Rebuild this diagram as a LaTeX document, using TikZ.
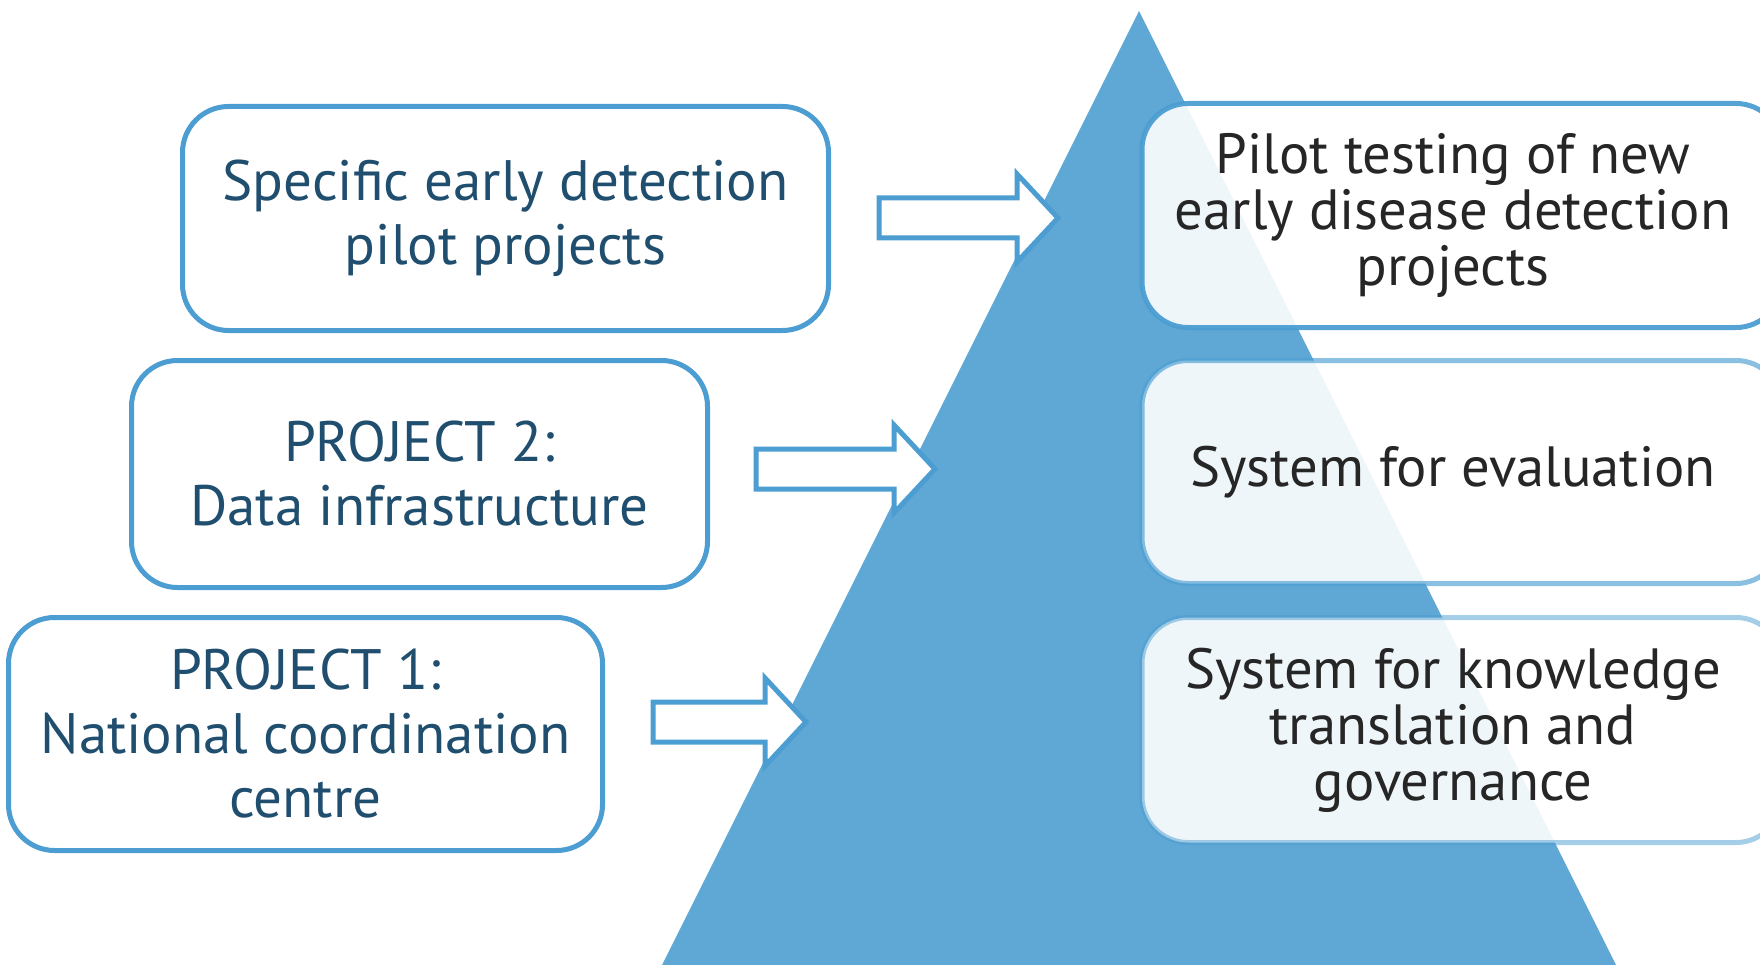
\documentclass[tikz,border=0pt]{standalone}
\usepackage{fontspec}
\setmainfont{PT Sans}
\definecolor{tri}{RGB}{95,167,212}
\definecolor{edge}{RGB}{76,158,210}
\definecolor{lefttext}{RGB}{31,78,110}
\definecolor{righttext}{RGB}{38,38,38}
\tikzset{
  leftbox/.style={draw=edge, line width=5pt, fill=white, rounded corners=46pt,
    align=center, text=lefttext, inner sep=0pt,
    font=\fontsize{57}{64}\selectfont},
  rightbox/.style={draw=edge, line width=5pt, fill=white, fill opacity=0.9,
    rounded corners=46pt, inner sep=0pt},
  righttxt/.style={align=center, text=righttext, inner sep=0pt,
    font=\fontsize{56.7}{56}\selectfont},
  blockarr/.style={draw=edge, line width=5pt, fill=white, line join=miter},
}
\newcommand\blockarrowshape[4]{%
  \draw[blockarr] (#1,{#4-20}) -- (#2,{#4-20}) -- (#2,{#4-44}) -- (#3,#4)
    -- (#2,{#4+44}) -- (#2,{#4+20}) -- (#1,{#4+20}) -- cycle;}
\begin{document}
\begin{tikzpicture}[x=1pt,y=-1pt]
\useasboundingbox (0,0) rectangle (1760,965);
\begin{scope}
\clip (0,0) rectangle (1760,965);
% pyramid
\fill[tri] (1139,11) -- (639,1011) -- (1639,1011) -- cycle;
% left boxes
\node[leftbox, minimum width=646pt, minimum height=224pt] (b1) at (505.5,218.5)
  {Specific early detection\\pilot projects};
\node[leftbox, minimum width=576pt, minimum height=227pt] (b2) at (419.5,474)
  {PROJECT 2:\\Data infrastructure};
\node[leftbox, minimum width=594pt, minimum height=233pt] (b3) at (305.5,734)
  {PROJECT 1:\\National coordination\\centre};
% arrows
\blockarrowshape{879}{1017}{1058}{218}
\blockarrowshape{756}{894}{935}{469}
\blockarrowshape{653}{765}{806}{722}
% right boxes
\node[rightbox, draw opacity=0.95, minimum width=640pt, minimum height=224pt] (r1) at (1462,215.5) {};
\node[rightbox, draw opacity=0.65, minimum width=640pt, minimum height=223pt] (r2) at (1462,472) {};
\node[rightbox, draw opacity=0.5, minimum width=640pt, minimum height=225pt] (r3) at (1462,730) {};
\node[righttxt] (t1) at ([xshift=-9pt]r1.center) {Pilot testing of new\\early disease detection\\projects};
\node[righttxt] (t2) at ([xshift=-9pt]r2.center) {System for evaluation};
\node[righttxt] (t3) at ([xshift=-9pt]r3.center) {System for knowledge\\translation and\\governance};
\end{scope}
\end{tikzpicture}
\end{document}
